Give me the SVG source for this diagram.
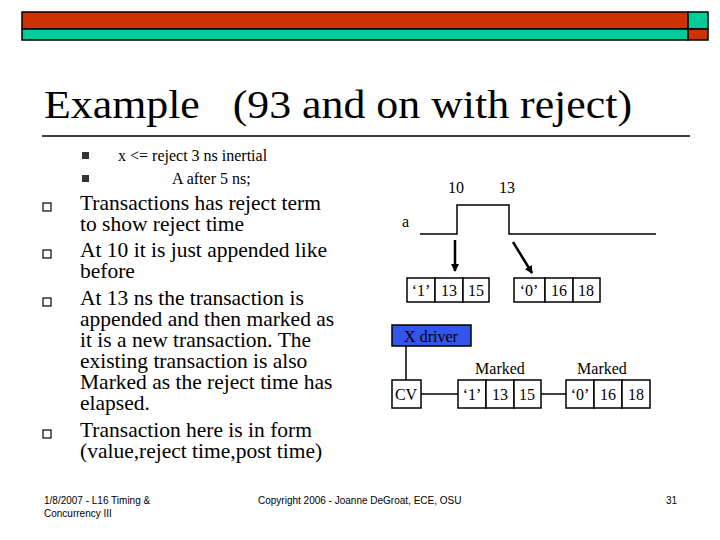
<svg xmlns="http://www.w3.org/2000/svg" width="720" height="540" viewBox="0 0 720 540">
<style>
.t{font-family:"Liberation Serif",serif;fill:#000}
.s{font-family:"Liberation Sans",sans-serif;fill:#000;font-size:10px}
.b{fill:#fff;stroke:#000;stroke-width:1.5}
.ln{stroke:#000;stroke-width:1.5;fill:none}
</style>
<defs><marker id="ah" markerWidth="8" markerHeight="8" refX="7" refY="4" orient="auto" markerUnits="userSpaceOnUse"><path d="M0,0 L8,4 L0,8 Z" fill="#000"/></marker></defs>
<rect width="720" height="540" fill="#fff"/>
<g id="header" stroke="#000" stroke-width="1.5">
<rect x="22" y="12" width="666" height="17" fill="#cc3300"/>
<rect x="688" y="12" width="20" height="17" fill="#00cc99"/>
<rect x="22" y="29" width="666" height="11" fill="#00cc99"/>
<rect x="688" y="29" width="20" height="11" fill="#cc3300"/>
</g>
<text class="t" x="44" y="118" font-size="40" xml:space="preserve" textLength="588" lengthAdjust="spacingAndGlyphs">Example   (93 and on with reject)</text>
<line x1="42" y1="136" x2="690" y2="136" stroke="#000" stroke-width="1.5"/>
<g id="text" class="t">
<rect x="82" y="152" width="7" height="7" fill="#333"/>
<rect x="82" y="175" width="7" height="7" fill="#333"/>
<text class="t" x="118" y="161" font-size="16">x &lt;= reject 3 ns inertial</text>
<text class="t" x="172" y="184" font-size="16">A after 5 ns;</text>
<g font-size="20" transform="translate(80 0) scale(1.075 1) translate(-80 0)">
<text class="t" x="80" y="210">Transactions has reject term</text>
<text class="t" x="80" y="231">to show reject time</text>
<text class="t" x="80" y="257">At 10 it is just appended like</text>
<text class="t" x="80" y="278">before</text>
<text class="t" x="80" y="305">At 13 ns the transaction is</text>
<text class="t" x="80" y="326">appended and then marked as</text>
<text class="t" x="80" y="347">it is a new transaction.  The</text>
<text class="t" x="80" y="368">existing transaction is also</text>
<text class="t" x="80" y="389">Marked as the reject time has</text>
<text class="t" x="80" y="410">elapsed.</text>
<text class="t" x="80" y="437">Transaction here is in form</text>
<text class="t" x="80" y="458">(value,reject time,post time)</text>
</g>
<g fill="none" stroke="#000" stroke-width="1.2">
<rect x="43" y="203" width="8" height="8"/><rect x="43" y="250" width="8" height="8"/>
<rect x="43" y="298" width="8" height="8"/><rect x="43" y="430" width="8" height="8"/>
</g>
</g>
<g id="wave">
<text class="t" x="448" y="193" font-size="16">10</text>
<text class="t" x="499" y="193" font-size="16">13</text>
<text class="t" x="402" y="227" font-size="16">a</text>
<path class="ln" d="M420,234 H457 V205 H509 V234 H656" stroke-width="2"/>
</g>
<g id="connectors" stroke="#000" stroke-width="2.5">
<line x1="455" y1="240" x2="455" y2="271" marker-end="url(#ah)"/>
<line x1="513" y1="242" x2="532" y2="273" marker-end="url(#ah)"/>
<line x1="406" y1="346" x2="406" y2="380" stroke-width="1.5"/>
<line x1="421" y1="394" x2="458" y2="394" stroke-width="1.5"/>
<line x1="541" y1="394" x2="566" y2="394" stroke-width="1.5"/>
</g>
<g id="q1">
<rect class="b" x="407" y="278" width="28" height="24"/><rect class="b" x="435" y="278" width="28" height="24"/><rect class="b" x="463" y="278" width="26" height="24"/>
<text class="t" x="421" y="296" text-anchor="middle" font-size="16">‘1’</text><text class="t" x="449" y="296" text-anchor="middle" font-size="16">13</text><text class="t" x="476" y="296" text-anchor="middle" font-size="16">15</text>
</g>
<g id="q2">
<rect class="b" x="514" y="278" width="31" height="24"/><rect class="b" x="545" y="278" width="28" height="24"/><rect class="b" x="573" y="278" width="27" height="24"/>
<text class="t" x="529" y="296" text-anchor="middle" font-size="16">‘0’</text><text class="t" x="559" y="296" text-anchor="middle" font-size="16">16</text><text class="t" x="586" y="296" text-anchor="middle" font-size="16">18</text>
</g>
<g id="xdriver">
<rect x="392" y="325" width="79" height="21" fill="#3355ee" stroke="#000" stroke-width="1.5"/>
<text class="t" x="431" y="342" text-anchor="middle" font-size="16">X driver</text>
</g>
<g id="cv">
<rect class="b" x="392" y="380" width="29" height="28"/>
<text class="t" x="406" y="400" text-anchor="middle" font-size="16">CV</text>
</g>
<g id="m1">
<text class="t" x="500" y="374" text-anchor="middle" font-size="16">Marked</text>
<rect class="b" x="458" y="380" width="28" height="28"/><rect class="b" x="486" y="380" width="28" height="28"/><rect class="b" x="514" y="380" width="27" height="28"/>
<text class="t" x="472" y="400" text-anchor="middle" font-size="16">‘1’</text><text class="t" x="500" y="400" text-anchor="middle" font-size="16">13</text><text class="t" x="527" y="400" text-anchor="middle" font-size="16">15</text>
</g>
<g id="m2">
<text class="t" x="602" y="374" text-anchor="middle" font-size="16">Marked</text>
<rect class="b" x="566" y="380" width="28" height="28"/><rect class="b" x="594" y="380" width="28" height="28"/><rect class="b" x="622" y="380" width="28" height="28"/>
<text class="t" x="580" y="400" text-anchor="middle" font-size="16">‘0’</text><text class="t" x="608" y="400" text-anchor="middle" font-size="16">16</text><text class="t" x="636" y="400" text-anchor="middle" font-size="16">18</text>
</g>
<g id="footer">
<text class="s" x="44" y="504">1/8/2007 - L16 Timing &amp;</text>
<text class="s" x="44" y="517">Concurrency III</text>
<text class="s" x="258" y="504">Copyright 2006 - Joanne DeGroat, ECE, OSU</text>
<text class="s" x="666" y="504">31</text>
</g>
</svg>
